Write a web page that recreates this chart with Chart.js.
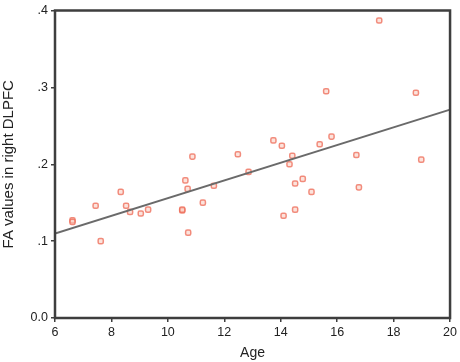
<!DOCTYPE html>
<html><head><meta charset="utf-8">
<script src="https://cdn.jsdelivr.net/npm/chart.js@4/dist/chart.umd.min.js"></script>
<style>html,body{margin:0;padding:0;background:#fff}#wrap{width:460px;height:362px}</style>
</head><body><div id="wrap"><canvas id="c"></canvas></div>
<script>
const ages = [6.62, 6.62, 7.44, 7.62, 8.33, 8.52, 8.66, 9.04, 9.30, 10.51, 10.51, 10.62, 10.70, 10.72, 10.87, 11.24, 11.63, 12.48, 12.86, 13.74, 14.04, 14.10, 14.31, 14.41, 14.51, 14.51, 14.78, 15.09, 15.38, 15.61, 15.80, 16.68, 16.77, 17.49, 18.79, 18.98];
const faValues = [0.127, 0.125, 0.146, 0.100, 0.164, 0.146, 0.138, 0.136, 0.141, 0.140, 0.141, 0.179, 0.168, 0.111, 0.210, 0.150, 0.172, 0.213, 0.190, 0.231, 0.224, 0.133, 0.200, 0.211, 0.175, 0.141, 0.181, 0.164, 0.226, 0.295, 0.236, 0.212, 0.170, 0.387, 0.293, 0.206];
const fitAges = [6, 20];
const fitValues = [0.110, 0.271];
const xTicks = [6, 8, 10, 12, 14, 16, 18, 20];
const yTicks = [0, 0.1, 0.2, 0.3, 0.4];
const yTickLabels = ['0.0', '.1', '.2', '.3', '.4'];

const frame = {
  id: 'frame',
  afterDatasetsDraw(chart) {
    const a = chart.chartArea, ctx = chart.ctx;
    ctx.save();
    ctx.strokeStyle = '#3e3e3e';
    ctx.lineWidth = 2.5;
    ctx.strokeRect(a.left, a.top, a.right - a.left, a.bottom - a.top);
    ctx.restore();
  }
};

new Chart(document.getElementById('c'), {
  type: 'scatter',
  data: {
    datasets: [
      {
        type: 'line',
        data: fitAges.map((x, i) => ({x, y: fitValues[i]})),
        borderColor: '#6a6a6a',
        borderWidth: 2,
        pointRadius: 0,
        fill: false
      },
      {
        data: ages.map((x, i) => ({x, y: faValues[i]})),
        pointStyle: 'rectRounded',
        pointRadius: 3,
        borderWidth: 1.5,
        borderColor: 'rgba(238,105,85,0.75)',
        backgroundColor: 'rgba(250,200,185,0.5)'
      }
    ]
  },
  plugins: [frame],
  options: {
    responsive: true,
    maintainAspectRatio: false,
    animation: false,
    layout: {padding: {top: 7, right: 8, bottom: 0, left: 0}},
    plugins: {legend: {display: false}, tooltip: {enabled: false}},
    scales: {
      x: {
        type: 'linear', min: 6, max: 20,
        afterBuildTicks: s => { s.ticks = xTicks.map(v => ({value: v})); },
        afterFit: s => { s.height = 44; },
        grid: {drawOnChartArea: false, tickLength: 4, color: '#3e3e3e', lineWidth: 1.5},
        border: {display: false},
        ticks: {color: '#222', font: {family: 'Liberation Sans', size: 12.5}, padding: 3, maxRotation: 0},
        title: {display: true, text: 'Age', color: '#222', font: {family: 'Liberation Sans', size: 14}, padding: {top: 0, bottom: 0}}
      },
      y: {
        type: 'linear', min: 0, max: 0.4,
        afterBuildTicks: s => { s.ticks = yTicks.map(v => ({value: v})); },
        afterFit: s => { s.width = 55; },
        grid: {drawOnChartArea: false, tickLength: 4, color: '#3e3e3e', lineWidth: 1.5},
        border: {display: false},
        ticks: {color: '#222', font: {family: 'Liberation Sans', size: 12.5}, padding: 3,
          callback: (v) => { const i = yTicks.findIndex(t => Math.abs(t - v) < 1e-9); return i >= 0 ? yTickLabels[i] : ''; }},
        title: {display: true, text: 'FA values in right DLPFC', color: '#222', font: {family: 'Liberation Sans', size: 15}, padding: {top: 0, bottom: 0}}
      }
    }
  }
});
</script>
</body></html>
